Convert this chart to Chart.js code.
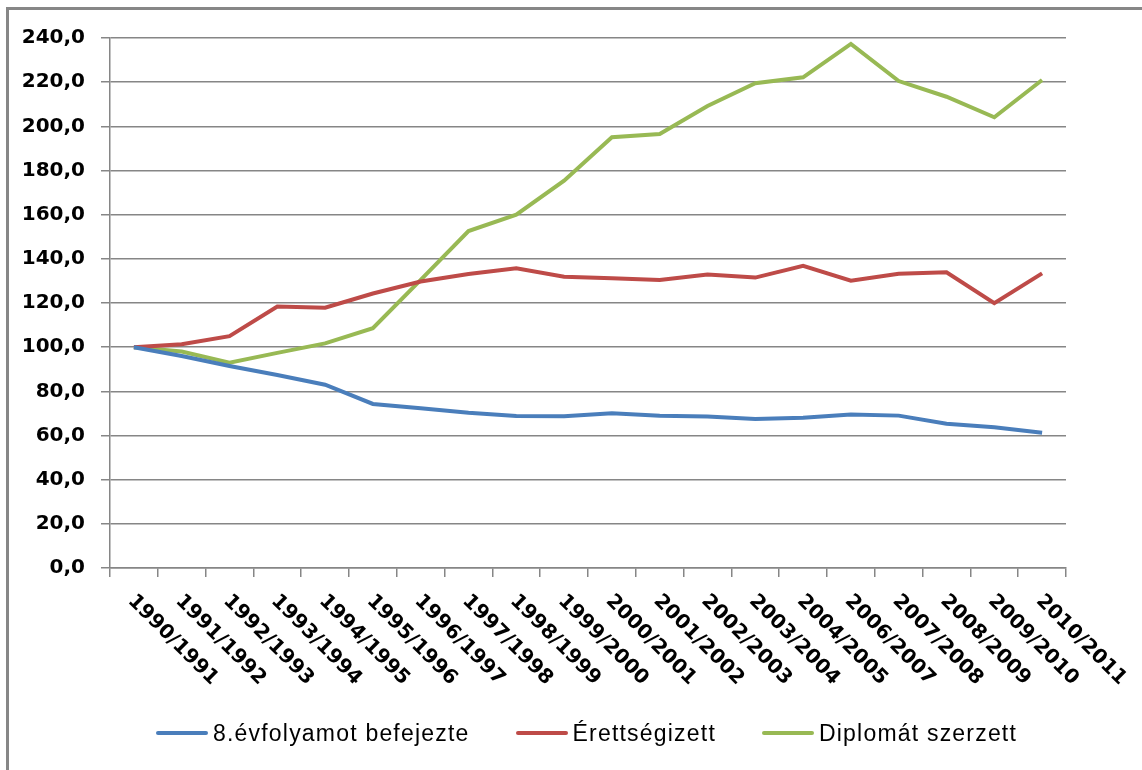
<!DOCTYPE html>
<html>
<head>
<meta charset="utf-8">
<script src="https://cdn.jsdelivr.net/npm/chart.js@4.4.1/dist/chart.umd.min.js"></script>
<style>
  html, body { margin: 0; padding: 0; background: #fff; }
  #wrap { position: relative; width: 1142px; height: 770px; overflow: hidden; }
  #frame { position: absolute; left: 6px; top: 7px; width: 1200px; height: 800px;
           border-left: 3px solid #878787; border-top: 3px solid #878787; }
  canvas { position: absolute; left: 0; top: 0; }
  #legend { position: absolute; left: 156px; top: 718px; height: 30px; display: flex; align-items: center;
            font-family: "Liberation Sans", Arial, sans-serif; font-size: 23px; letter-spacing: 1.2px; color: #000; }
  #legend .item { display: flex; align-items: center; margin-right: 46px; }
  #legend .line { width: 52px; height: 4px; border-radius: 2px; margin-right: 5px; }
</style>
</head>
<body>
<div id="wrap">
  <div id="frame"></div>
  <canvas id="chart" width="1142" height="770"></canvas>
  <div id="legend"></div>
</div>
<script>
// tanévek
const categories = ['1990/1991', '1991/1992', '1992/1993', '1993/1994', '1994/1995', '1995/1996',
  '1996/1997', '1997/1998', '1998/1999', '1999/2000', '2000/2001', '2001/2002', '2002/2003',
  '2003/2004', '2004/2005', '2006/2007', '2007/2008', '2008/2009', '2009/2010', '2010/2011'];

const seriesNames = ['8.évfolyamot befejezte', 'Érettségizett', 'Diplomát szerzett'];
const seriesColors = ['#4A7EBB', '#BE4B48', '#98B954'];

const befejezte = [100, 96, 91.5, 87.4, 83, 74.3, 72.3, 70.3, 68.8, 68.7,
  70.1, 68.9, 68.6, 67.5, 68, 69.5, 69, 65.3, 63.7, 61.2];
const erettsegizett = [100, 101.3, 105, 118.4, 117.9, 124.3, 129.7, 133.1, 135.7, 131.9,
  131.2, 130.4, 132.9, 131.5, 136.8, 130.1, 133.2, 133.9, 119.9, 133.4];
const diploma = [100, 98, 93, 97.4, 101.7, 108.6, 130.5, 152.6, 160, 175.4,
  195.1, 196.5, 209.2, 219.5, 222.2, 237.3, 220.5, 213.4, 204.1, 221];

const yMin = 0, yMax = 240, yStep = 20;

const GRID = '#868686';

// x feliratok: 45 fokban lefelé, a tick alól indulva
const xLabelPlugin = {
  id: 'xLabels',
  afterDraw(chart) {
    const ctx = chart.ctx;
    const x = chart.scales.x;
    ctx.save();
    ctx.font = 'bold 20px "DejaVu Sans"';
    ctx.fillStyle = '#000';
    ctx.textAlign = 'left';
    ctx.textBaseline = 'middle';
    categories.forEach((c, i) => {
      const px = x.getPixelForValue(i);
      ctx.save();
      ctx.translate(px - 3, x.top + 30);
      ctx.rotate(Math.PI / 4);
      ctx.fillText(c, 0, 0);
      ctx.restore();
    });
    ctx.restore();
  }
};

const allData = [befejezte, erettsegizett, diploma];

new Chart(document.getElementById('chart'), {
  type: 'line',
  data: {
    labels: categories,
    datasets: allData.map((d, i) => ({
      label: seriesNames[i],
      data: d,
      borderColor: seriesColors[i],
      backgroundColor: seriesColors[i],
      borderWidth: 4,
      pointRadius: 0,
      tension: 0,
      fill: false
    }))
  },
  options: {
    responsive: false,
    animation: false,
    layout: { padding: { top: 38, right: 76, bottom: 0, left: 0 } },
    plugins: {
      legend: { display: false },
      tooltip: { enabled: false }
    },
    scales: {
      x: {
        offset: true,
        grid: { offset: true, drawOnChartArea: false, drawTicks: true, tickLength: 9, color: GRID, lineWidth: 1.5 },
        border: { color: GRID, width: 1.5 },
        ticks: { display: false },
        afterFit: s => { s.height = 202; }
      },
      y: {
        min: yMin,
        max: yMax,
        ticks: {
          stepSize: yStep,
          color: '#000',
          padding: 16,
          font: { family: 'DejaVu Sans', size: 20, weight: 'bold' },
          callback: v => v.toFixed(1).replace('.', ',')
        },
        grid: { color: GRID, lineWidth: 1.5, tickLength: 9 },
        border: { color: GRID, width: 1.5 },
        afterFit: s => { s.width = 110; }
      }
    }
  },
  plugins: [xLabelPlugin]
});

// jelmagyarázat
const legend = document.getElementById('legend');
seriesNames.forEach((name, i) => {
  const item = document.createElement('div');
  item.className = 'item';
  const line = document.createElement('span');
  line.className = 'line';
  line.style.background = seriesColors[i];
  const txt = document.createElement('span');
  txt.textContent = name;
  item.appendChild(line);
  item.appendChild(txt);
  legend.appendChild(item);
});
</script>
</body>
</html>
